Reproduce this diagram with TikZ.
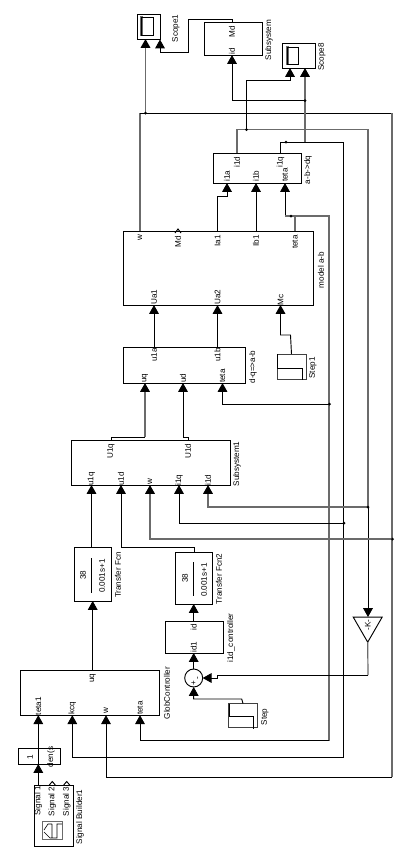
\documentclass[tikz,border=0pt]{standalone}
\usepackage{fontspec}
\setmainfont{Liberation Sans}
\usetikzlibrary{arrows.meta,calc,positioning,shapes.geometric}
\definecolor{wiregray}{gray}{0.42}
\tikzset{
  sz/.style n args={2}{minimum width=#1*0.75pt,minimum height=#2*0.75pt},
  block/.style={draw,line width=0.7pt,inner sep=0pt,outer sep=0pt},
  lbl/.style={rotate=90,inner sep=0pt,font=\fontsize{6.1}{7}\selectfont},
  wire/.style={line width=0.7pt},
  gwire/.style={line width=0.9pt,wiregray},
  sig/.style={wire,-{Triangle[width=7.2pt,length=6.6pt]}},
  gsig/.style={gwire,-{Triangle[width=7.2pt,length=6.6pt,color=black,fill=black]}},
}
\begin{document}
\begin{tikzpicture}[x=0.75pt,y=-0.75pt]
    \useasboundingbox (0,0) rectangle (409,865);
    \fill[white] (0,0) rectangle (409,865);

    % Scopes and Subsystem
    \node[block,sz={23}{25}] (scopeone) at (148.5,26.5) {};
    \draw[gwire] (141,17) rectangle (142,35);
    \draw[wire] (141,17) rectangle (153,35);
    \node[lbl] (scopeonelbl) at (176,28.5) {Scope1};
    \node[block,sz={33}{25}] (scopesix) at (298.5,55.5) {};
    \draw[gwire] (287,47) rectangle (288,64);
    \draw[wire] (287,47) rectangle (298,64);
    \node[lbl] (scopesixlbl) at (322,57) {Scope8};
    \node[block,sz={58}{33}] (subsys) at (233,38.5) {};
    \node[lbl] (subsysmd) at (232,32) {Md};
    \node[lbl] (subsysid) at (232,51) {id};
    \node[lbl] (subsyslbl) at (269,40) {Subsystem};

    % a-b->dq
    \node[block,sz={88}{30}] (abdq) at (257,168) {};
    \node[lbl] (abdqid) at (237,162) {i1d};
    \node[lbl] (abdqiq) at (280.5,162) {i1q};
    \node[lbl] (abdqia) at (227,176) {i1a};
    \node[lbl] (abdqib) at (256,176) {i1b};
    \node[lbl] (abdqteta) at (285,175) {teta};
    \node[lbl] (abdqlbl) at (308,170) {a-b->dq};

    % model a-b
    \node[block,sz={190}{74}] (model) at (218.5,268) {};
    \node[lbl] (modelw) at (140,238) {w};
    \node[lbl] (modelmd) at (178,242) {Md};
    \node[lbl] (modelia) at (217.5,241) {Ia1};
    \node[lbl] (modelib) at (256,241) {Ib1};
    \node[lbl] (modelteta) at (295,242) {teta};
    \node[lbl] (modelua) at (154,297) {Ua1};
    \node[lbl] (modelub) at (217.5,297) {Ua2};
    \node[lbl] (modelmc) at (280.5,300) {Mc};
    \node[lbl] (modellbl) at (321,270) {model a-b};
    \draw[wire] (175,233) -- (178,229) -- (181,233);

    % d-q=>a-b
    \node[block,sz={122}{36}] (dqab) at (184.5,365) {};
    \node[lbl] (dqabua) at (154,355) {u1a};
    \node[lbl] (dqabub) at (217.5,355) {u1b};
    \node[lbl] (dqabuq) at (145,378) {uq};
    \node[lbl] (dqabud) at (183,378) {ud};
    \node[lbl] (dqabteta) at (222.5,376) {teta};
    \node[lbl] (dqablbl) at (253,367) {d-q=>a-b};

    % Step1
    \node[block,draw=black!75,sz={29}{25}] (stepone) at (291.5,366.5) {};
    \draw[wire] (277.8,354) -- (277.8,368) -- (302,368) -- (302,380);
    \node[lbl] (steponelbl) at (313,368) {Step1};

    % Subsystem1
    \node[block,sz={159}{45}] (subsysone) at (150.5,462.5) {};
    \node[lbl] (oneuq) at (111,451) {U1q};
    \node[lbl] (oneud) at (188,451) {U1d};
    \node[lbl] (oneinq) at (91.5,479) {u1q};
    \node[lbl] (oneind) at (121,479) {u1d};
    \node[lbl] (onew) at (150,482) {w};
    \node[lbl] (oneiq) at (179,480) {i1q};
    \node[lbl] (oneid) at (208,480) {i1d};
    \node[lbl] (onelbl) at (237,464) {Subsystem1};

    % Transfer functions
    \node[block,sz={37}{54}] (tfa) at (92.5,574) {};
    \node[lbl] (tfanum) at (83,575) {38};
    \node[lbl] (tfaden) at (102,576) {0.001s+1};
    \node[lbl] (tfalbl) at (118,575) {Transfer Fcn};
    \draw[wire] (91.5,558) -- (91.5,593);
    \node[block,sz={37}{52}] (tfb) at (194,578) {};
    \node[lbl] (tfbnum) at (185,578) {38};
    \node[lbl] (tfbden) at (204,580) {0.001s+1};
    \node[lbl] (tfblbl) at (219,579) {Transfer Fcn2};
    \draw[wire] (193.7,562) -- (193.7,596);

    % i1d_controller, sum and Step
    \node[block,sz={58}{32}] (ctrl) at (194,637) {};
    \node[lbl] (ctrlout) at (193.7,627) {id};
    \node[lbl] (ctrlin) at (193.7,647) {id1};
    \node[lbl] (ctrllbl) at (231,638) {i1d\_controller};
    \node[draw,circle,line width=0.7pt,inner sep=0pt,outer sep=0pt,minimum size=13.5pt] (sum) at (193.7,678) {};
    \node[lbl] (summinus) at (198.5,678) {-};
    \node[lbl] (sumplus) at (193.7,683.5) {+};
    \node[block,draw=black!75,sz={29}{24}] (stepzero) at (243,715.5) {};
    \draw[wire] (229,703.5) -- (229,716) -- (253.5,716) -- (253.5,729);
    \node[lbl] (stepzerolbl) at (265,717) {Step};

    % GlobController
    \node[block,sz={139}{45}] (glob) at (90.2,692.7) {};
    \node[lbl] (globuq) at (92.7,678) {uq};
    \node[lbl] (globtetaone) at (38.3,706) {teta1};
    \node[lbl] (globkcq) at (72.3,708) {kcq};
    \node[lbl] (globw) at (106,711) {w};
    \node[lbl] (globteta) at (140,708) {teta};
    \node[lbl] (globlbl) at (167,693) {GlobController};

    % den(s) and Signal Builder
    \node[block,sz={42}{16}] (den) at (39.2,756) {};
    \node[lbl] (dennum) at (30,757) {1};
    \node[lbl] (dendenom) at (51,757) {den(s};
    \node[block,sz={39}{61}] (builder) at (53.8,815.5) {};
    \node[lbl] (builderone) at (38.3,801) {Signal 1};
    \node[lbl] (buildertwo) at (52.3,801.5) {Signal 2};
    \node[lbl] (builderthree) at (66.7,801.5) {Signal 3};
    \node[lbl] (builderlbl) at (80,817) {Signal Builder1};
    \draw[wire] (49.3,785) -- (52.3,781.5) -- (55.3,785);
    \draw[wire] (63.7,785) -- (66.7,781.5) -- (69.7,785);
    \draw[wiregray,line width=0.6pt] (42.7,821.7) rectangle (62.7,839.7);
    \draw[line width=0.45pt] (44,830) -- (48,824) -- (52,824) (44,832) -- (50,838) -- (52,838) -- (52,824) (52,838) -- (57,838) -- (57,824) -- (62,824);

    % Gain
    \node[draw,regular polygon,regular polygon sides=3,shape border rotate=180,line width=0.7pt,inner sep=0pt,outer sep=0pt,minimum size=25pt] (gain) at (367.7,625.5) {};
    \node[lbl] (gaink) at (367.7,625) {-K-};

    % Junctions
    \coordinate (jtop) at (145.5,113);
    \coordinate (jid) at (246.5,129.5);
    \coordinate (jiqb) at (286,142);
    \coordinate (jsub) at (305,100.5);
    \coordinate (jteta) at (291,216);
    \coordinate (jdq) at (329.5,404);
    \coordinate (jone) at (368,507);
    \coordinate (jtwo) at (344,523);
    \coordinate (jthree) at (392.5,539);

    % Scope1 and Subsystem wires
    \draw[gwire] (model.north -| modelw) -- (140,113);
    \draw[wire] (140,113) -- (392,113);
    \draw[gwire] (392,113) -- (392,777);
    \draw[wire] (392,777) -- (106,777);
    \draw[sig] (106,777) -- (globw |- glob.south);
    \draw[gsig] (jtop) -- (jtop |- scopeone.south);
    \draw[sig] (subsysmd |- subsys.north) -- (232,19.5) -| (188.5,52) -- (160,52) -- (160,39.5);
    \draw[sig] (jsub) -- (232,100.5) -- (subsysid |- subsys.south);

    % a-b->dq outputs
    \draw[sig] (jid) -- (246.5,80) -- (290,80) -- (290,68);
    \draw[gwire] (abdqid |- abdq.north) -- (237,129.5) -- (368,129.5) -- (368,507);
    \draw[wire] (abdqiq |- abdq.north) -- (280.5,142) -- (343,142) -- (343,757) -- (72.3,757);
    \draw[sig] (72.3,757) -- (globkcq |- glob.south);
    \draw[gsig] (305,142) -- (305,68);
    \draw[sig] (368,507) -- (368,617);

    % model a-b to a-b->dq
    \draw[sig] (modelia |- model.north) -- (217.5,196) -- (227,196) -- (abdqia |- abdq.south);
    \draw[sig] (modelib |- model.north) -- (abdqib |- abdq.south);
    \draw[sig] (285,216) -- (abdqteta |- abdq.south);
    \draw[gwire] (modelteta |- model.north) -- (295,216) -- (285,216);
    \draw[gwire] (295,216) -- (329,216) -- (329,740.5);
    \draw[wire] (329,740.5) -- (140,740.5);
    \draw[sig] (140,740.5) -- (globteta |- glob.south);

    % d-q=>a-b
    \draw[sig] (dqabua |- dqab.north) -- (modelua |- model.south);
    \draw[sig] (dqabub |- dqab.north) -- (modelub |- model.south);
    \draw[sig] (stepone.north) -- (290.5,335) -- (280.5,335) -- (modelmc |- model.south);
    \draw[sig] (jdq) -- (222.5,404) -- (dqabteta |- dqab.south);
    \draw[wire] (oneuq |- subsysone.north) -- (111,437) -- (145,437);
    \draw[gsig] (145,437) -- (dqabuq |- dqab.south);
    \draw[sig] (oneud |- subsysone.north) -- (188,437) -- (183,437) -- (dqabud |- dqab.south);

    % Subsystem1 inputs
    \draw[sig] (tfa.north -| oneinq) -- (oneinq |- subsysone.south);
    \draw[sig] (tfb.north) -- (194,547.7) -- (121,547.7) -- (oneind |- subsysone.south);
    \draw[gsig] (jthree) -- (150,539) -- (onew |- subsysone.south);
    \draw[sig] (jtwo) -- (179,523) -- (oneiq |- subsysone.south);
    \draw[gsig] (jone) -- (208,507) -- (oneid |- subsysone.south);

    % Controllers
    \draw[sig] (glob.north -| globuq) -- (globuq |- tfa.south);
    \draw[sig] (ctrlout |- ctrl.north) -- (ctrlout |- tfb.south);
    \draw[sig] (sum.north) -- (ctrlin |- ctrl.south);
    \draw[gwire] (gain.south) -- (368,675);
    \draw[sig] (368,675) -- (217,675) -- (217,678) -- (sum.east);
    \draw[sig] (stepzero.north) -- (241.7,699) -- (193.7,699) -- (sum.south);

    % Signal path
    \draw[sig] (builderone |- builder.north) -- (builderone |- den.south);
    \draw[sig] (builderone |- den.north) -- (globtetaone |- glob.south);
    \draw[wire] (builderone |- den.north) -- (builderone |- den.south);

    % Junction dots on top of the wires
    \foreach \j in {jtop,jid,jiqb,jsub,jteta,jdq,jone,jtwo,jthree}
        \fill (\j) circle (1.5);
\end{tikzpicture}
\end{document}
